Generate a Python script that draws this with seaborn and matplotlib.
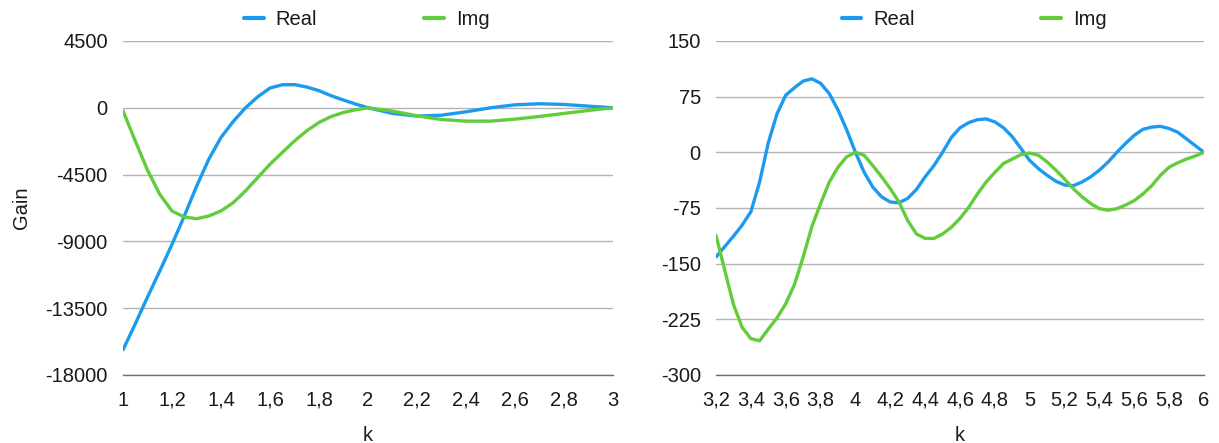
import numpy as np
import pandas as pd
import matplotlib
matplotlib.use("Agg")
import matplotlib.pyplot as plt
from matplotlib.ticker import FixedLocator, FuncFormatter
import seaborn as sns

# Low-k range (finer sampling where the response swings most)
k_low = [1.0, 1.05, 1.1, 1.15, 1.2, 1.25, 1.3, 1.35, 1.4, 1.45, 1.5,
         1.55, 1.6, 1.65, 1.7, 1.75, 1.8, 1.85, 1.9, 1.95, 2.0,
         2.1, 2.2, 2.3, 2.4, 2.5, 2.6, 2.7, 2.8, 2.9, 3.0]
real_low = [-16300, -14560, -12750, -11000, -9200, -7300, -5300, -3470, -2000, -920, 0,
            740, 1330, 1550, 1560, 1400, 1150, 810, 520, 250, 0,
            -380, -560, -500, -270, 0, 200, 270, 225, 110, 0]
img_low = [-200, -2230, -4200, -5830, -6950, -7360, -7470, -7290, -6950, -6390, -5600,
           -4700, -3800, -3015, -2230, -1550, -990, -585, -315, -135, 0,
           -225, -540, -790, -900, -900, -765, -585, -380, -180, 0]

# High-k range, sampled every 0.05
k_high = [round(3.2 + 0.05 * i, 2) for i in range(57)]
real_high = [-141, -127, -113, -98, -80, -40, 13, 52, 77, 87, 96, 99, 93, 79, 57, 30,
             0, -27, -47, -60, -67, -68, -62, -50, -33, -18, 0, 20, 33, 40, 44, 45,
             41, 33, 21, 5, -11, -22, -31, -39, -44, -45, -40, -33, -24, -13, 0, 12,
             23, 31, 34, 35, 32, 27, 18, 9, 0]
img_high = [-112, -159, -205, -236, -251, -254, -238, -223, -204, -178, -141, -100, -69, -40, -20, -6,
            0, -4, -18, -33, -49, -67, -92, -110, -116, -116, -110, -101, -89, -74, -56, -40,
            -27, -15, -9, -3, -1, -4, -13, -24, -36, -49, -60, -69, -76, -78, -76, -71,
            -65, -56, -45, -31, -20, -14, -9, -5, 0]

series_names = ["Real", "Img"]
colors = {"Real": "#1b9bf0", "Img": "#62cc3a"}

low_yticks = [-18000, -13500, -9000, -4500, 0, 4500]
high_yticks = [-300, -225, -150, -75, 0, 75, 150]
low_xticks = [1, 1.2, 1.4, 1.6, 1.8, 2, 2.2, 2.4, 2.6, 2.8, 3]
high_xticks = [3.2, 3.4, 3.6, 3.8, 4, 4.2, 4.4, 4.6, 4.8, 5, 5.2, 5.4, 5.6, 5.8, 6]


def long_frame(k, real, img):
    return pd.concat([
        pd.DataFrame({"k": k, "Gain": real, "Series": "Real"}),
        pd.DataFrame({"k": k, "Gain": img, "Series": "Img"}),
    ], ignore_index=True)


sns.set_theme(style="white")
plt.rcParams["font.family"] = ["Liberation Sans", "DejaVu Sans"]
text_color = "#1a1a1a"
fs = 14.5

fig = plt.figure(figsize=(12.19, 4.43), dpi=100)
ax1 = fig.add_axes([0.1009, 0.1535, 0.4020, 0.7540])
ax2 = fig.add_axes([0.5874, 0.1535, 0.4003, 0.7540])

panels = [
    (ax1, long_frame(k_low, real_low, img_low), (1, 3), (-18000, 4500),
     low_xticks, low_yticks, 0.3007, 5.3),
    (ax2, long_frame(k_high, real_high, img_high), (3.2, 6), (-300, 150),
     high_xticks, high_yticks, 0.799, 6.25),
]

comma = FuncFormatter(lambda v, p: f"{v:g}".replace(".", ","))

for ax, df, xlim, ylim, xt, yt, lx, colsp in panels:
    sns.lineplot(data=df, x="k", y="Gain", hue="Series", hue_order=series_names,
                 palette=colors, linewidth=2.4, ax=ax, sort=False)
    for line in ax.get_lines():
        line.set_solid_joinstyle("round")
        line.set_solid_capstyle("round")
    ax.set_xlim(*xlim)
    ax.set_ylim(*ylim)
    ax.xaxis.set_major_locator(FixedLocator(xt))
    ax.yaxis.set_major_locator(FixedLocator(yt))
    ax.xaxis.set_major_formatter(comma)
    ax.yaxis.set_major_formatter(FuncFormatter(lambda v, p: f"{v:.0f}"))
    ax.grid(axis="y", color="#b3b3b3", linewidth=1.0)
    ax.grid(axis="x", visible=False)
    for side in ["left", "right", "top"]:
        ax.spines[side].set_visible(False)
    ax.spines["bottom"].set_color("#6e6e6e")
    ax.spines["bottom"].set_linewidth(1.0)
    ax.tick_params(axis="both", length=0, labelsize=fs, labelcolor=text_color)
    ax.tick_params(axis="y", pad=11)
    # baseline-aligned x labels so "2" and "2,2" sit on the same line
    ax.tick_params(axis="x", pad=22)
    for lbl in ax.get_xticklabels():
        lbl.set_verticalalignment("baseline")
    ax.set_xlabel("k", fontsize=fs, color=text_color, labelpad=12)
    ax.set_ylabel("")

    handles, labels = ax.get_legend_handles_labels()
    if ax.get_legend() is not None:
        ax.get_legend().remove()
    leg = ax.legend(handles, labels, loc="center", bbox_to_anchor=(lx, 0.955),
                    bbox_transform=fig.transFigure, ncol=2, frameon=False,
                    fontsize=fs, handlelength=0.98, handletextpad=0.6,
                    columnspacing=colsp)
    for line in leg.get_lines():
        line.set_linewidth(3.0)
    for t in leg.get_texts():
        t.set_color(text_color)

ax1.set_ylabel("Gain", fontsize=fs, color=text_color, labelpad=10)

fig.savefig("out.png", dpi=100, facecolor="white")
